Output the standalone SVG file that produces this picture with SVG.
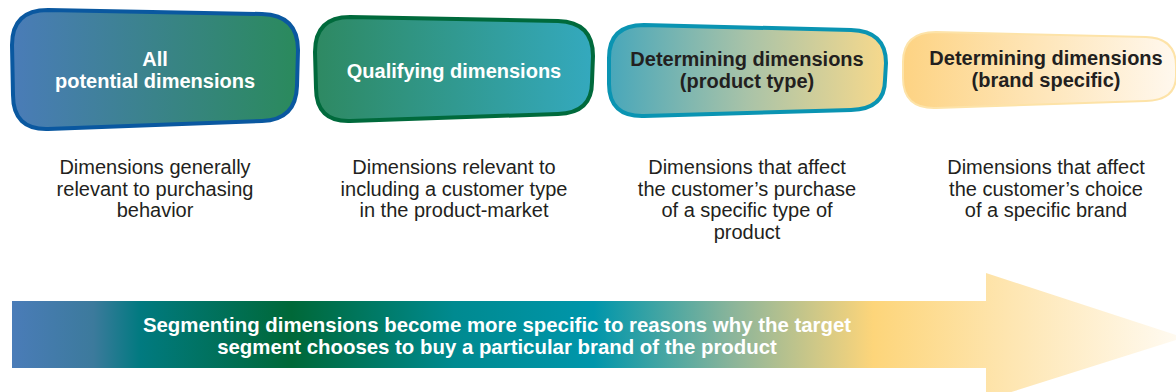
<svg xmlns="http://www.w3.org/2000/svg" width="1176" height="392" viewBox="0 0 1176 392">
<defs>
<linearGradient id="g1" x1="0" y1="0" x2="1" y2="0"><stop offset="0" stop-color="#4a7cb8"/><stop offset="1" stop-color="#2a8a5c"/></linearGradient>
<linearGradient id="g2" x1="0" y1="0" x2="1" y2="0"><stop offset="0" stop-color="#2e8962"/><stop offset="1" stop-color="#34a9be"/></linearGradient>
<linearGradient id="g3" x1="0" y1="0" x2="1" y2="0"><stop offset="0" stop-color="#48a7ba"/><stop offset="0.5" stop-color="#a9c3a8"/><stop offset="1" stop-color="#f7d98c"/></linearGradient>
<linearGradient id="g4" x1="0" y1="0" x2="1" y2="0"><stop offset="0" stop-color="#fdd383"/><stop offset="1" stop-color="#fff8ee"/></linearGradient>
<linearGradient id="ga" gradientUnits="userSpaceOnUse" x1="12" y1="0" x2="1176" y2="0">
<stop offset="0" stop-color="#4a7cb8"/>
<stop offset="0.07" stop-color="#3c7a9c"/>
<stop offset="0.11" stop-color="#017a80"/>
<stop offset="0.24" stop-color="#006838"/>
<stop offset="0.38" stop-color="#008a90"/>
<stop offset="0.5" stop-color="#0096ab"/>
<stop offset="0.62" stop-color="#8cb59a"/>
<stop offset="0.74" stop-color="#fdd57a"/>
<stop offset="0.86" stop-color="#fee6b2"/>
<stop offset="1" stop-color="#fffaf0"/>
</linearGradient>
</defs>
<style>
.hw{font-family:"Liberation Sans",Arial,sans-serif;font-weight:bold;font-size:20px;fill:#ffffff;text-anchor:middle}
.hd{font-family:"Liberation Sans",Arial,sans-serif;font-weight:bold;font-size:20px;fill:#231f20;text-anchor:middle}
.d{font-family:"Liberation Sans",Arial,sans-serif;font-size:20px;fill:#231f20;text-anchor:middle}
.a{font-family:"Liberation Sans",Arial,sans-serif;font-weight:bold;font-size:20.4px;fill:#ffffff;text-anchor:middle}
</style>
<g id="connectors">
<path d="M12,301 L986,301 L986,273 L1176,335 L1176,340 L986,400 L986,368 L12,368 Z" fill="url(#ga)"/>
<text class="a" x="497" y="332">Segmenting dimensions become more specific to reasons why the target</text>
<text class="a" x="497" y="354">segment chooses to buy a particular brand of the product</text>
</g>
<g id="node1">
<path d="M48,10 L262,14 Q298,15 298,50 L297,86 Q296,120 262,121 L48,129 Q13,130 13,95 L12,45 Q12,10 48,10 Z" fill="url(#g1)" stroke="#0a58a0" stroke-width="4"/>
<text class="hw" x="155" y="66">All</text>
<text class="hw" x="155" y="88">potential dimensions</text>
<text class="d" x="155" y="174">Dimensions generally</text>
<text class="d" x="155" y="196">relevant to purchasing</text>
<text class="d" x="155" y="217">behavior</text>
</g>
<g id="node2">
<path d="M350,17 L558,21 Q593,22 593,56 L592,82 Q592,113 558,114 L350,121 Q316,122 316,88 L315,52 Q315,17 350,17 Z" fill="url(#g2)" stroke="#006a3c" stroke-width="4"/>
<text class="hw" x="454" y="78">Qualifying dimensions</text>
<text class="d" x="454" y="174">Dimensions relevant to</text>
<text class="d" x="454" y="196">including a customer type</text>
<text class="d" x="454" y="217">in the product-market</text>
</g>
<g id="node3">
<path d="M644,25 L851,30 Q886,31 886,63 L885,80 Q885,109 851,110 L644,116 Q609,117 609,84 L609,58 Q609,25 644,25 Z" fill="url(#g3)" stroke="#0a94b2" stroke-width="4"/>
<text class="hd" x="747" y="66">Determining dimensions</text>
<text class="hd" x="747" y="88">(product type)</text>
<text class="d" x="747" y="174">Dimensions that affect</text>
<text class="d" x="747" y="196">the customer’s purchase</text>
<text class="d" x="747" y="217">of a specific type of</text>
<text class="d" x="747" y="239">product</text>
</g>
<g id="node4">
<path d="M936,32 L1146,37 Q1176,38 1176,66 L1176,76 Q1176,100 1146,101 L936,108 Q903,109 903,78 L903,62 Q903,32 936,32 Z" fill="url(#g4)" stroke="#fde3a8" stroke-width="2"/>
<text class="hd" x="1046" y="65">Determining dimensions</text>
<text class="hd" x="1046" y="87">(brand specific)</text>
<text class="d" x="1046" y="174">Dimensions that affect</text>
<text class="d" x="1046" y="196">the customer’s choice</text>
<text class="d" x="1046" y="217">of a specific brand</text>
</g>
</svg>
